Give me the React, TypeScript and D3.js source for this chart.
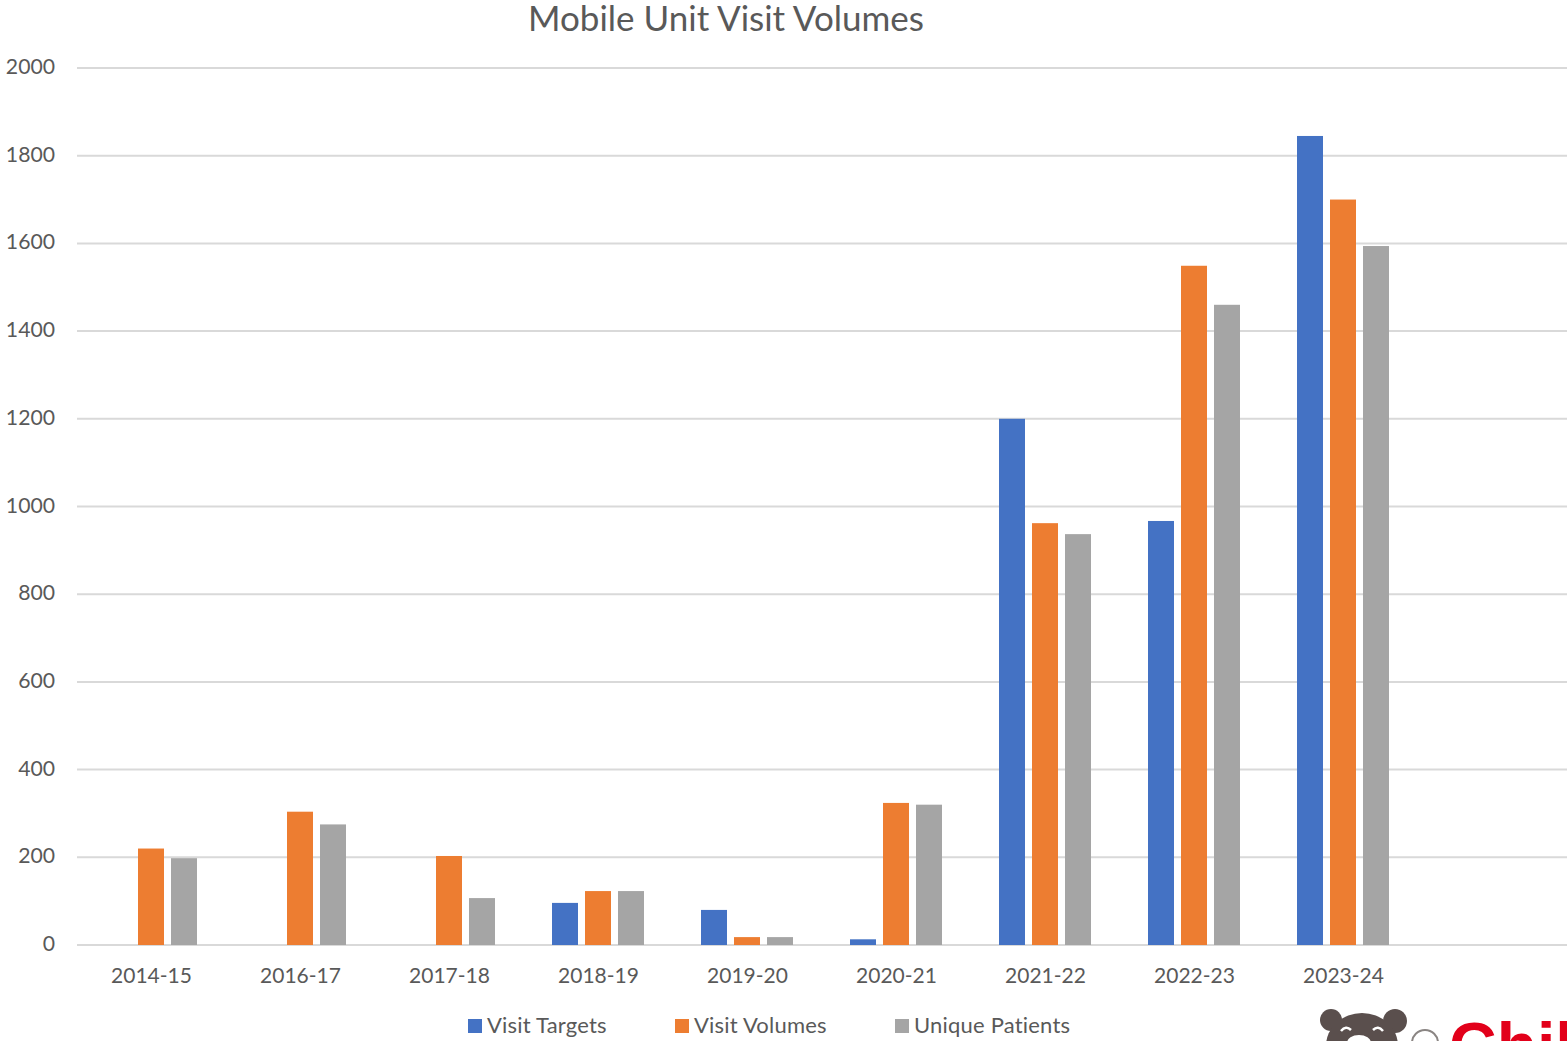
import * as d3 from "d3";

const categories = ["2014-15", "2016-17", "2017-18", "2018-19", "2019-20", "2020-21", "2021-22", "2022-23", "2023-24", ""];
const visitTargets = [0, 0, 0, 96, 80, 13, 1200, 967, 1845, 0];
const visitVolumes = [220, 304, 203, 123, 18, 324, 962, 1549, 1700, 0];
const uniquePatients = [198, 275, 107, 123, 18, 320, 937, 1460, 1594, 0];
const seriesNames = ["Visit Targets", "Visit Volumes", "Unique Patients"];
const seriesColors = ["#4472c4", "#ed7d31", "#a5a5a5"];
const yTicks = [0, 200, 400, 600, 800, 1000, 1200, 1400, 1600, 1800, 2000];

const width = 1567;
const height = 1041;
const font = "Lato, 'Open Sans', sans-serif";
const textColor = "#595959";

const App = () => {
  const x = d3.scaleBand().domain(categories).range([77, 1567]);
  const y = d3.scaleLinear().domain([0, 2000]).range([945, 68]);

  // bars are 26 wide with a 7 gap, centred in each category
  const inner = d3.scaleBand().domain(seriesNames).range([28, 120]).paddingInner(7 / 33).paddingOuter(0);

  const allSeries = [visitTargets, visitVolumes, uniquePatients];
  const legendX = [468, 675, 895];

  return (
    <svg
      width={width}
      height={height}
      viewBox={`0 0 ${width} ${height}`}
      style={{ position: "absolute", left: 0, top: 0, background: "#fff" }}
      fontFamily={font}
    >
      <text x={726} y={30.5} fontSize={35} textAnchor="middle" fill={textColor}>
        Mobile Unit Visit Volumes
      </text>

      {/* Y gridlines and labels */}
      {yTicks.map((t) => (
        <g key={t}>
          <line x1={77} x2={1567} y1={y(t)} y2={y(t)} stroke="#d9d9d9" strokeWidth={2} />
          <text x={55} y={y(t) + 6} fontSize={21.2} textAnchor="end" fill={textColor}>
            {t}
          </text>
        </g>
      ))}

      {/* Bars */}
      {allSeries.map((values, s) =>
        values.map((v, i) =>
          v > 0 ? (
            <rect
              key={`${s}-${i}`}
              x={(x(categories[i]) ?? 0) + (inner(seriesNames[s]) ?? 0)}
              y={y(v)}
              width={inner.bandwidth()}
              height={y(0) - y(v)}
              fill={seriesColors[s]}
            />
          ) : null
        )
      )}

      {/* X labels */}
      {categories.map((c) => (
        <text
          key={c}
          x={(x(c) ?? 0) + x.bandwidth() / 2}
          y={983}
          fontSize={21}
          textAnchor="middle"
          fill={textColor}
        >
          {c}
        </text>
      ))}

      {/* Legend */}
      {seriesNames.map((name, i) => (
        <g key={name}>
          <rect x={legendX[i]} y={1019} width={14} height={14} fill={seriesColors[i]} />
          <text x={legendX[i] + 19} y={1033} fontSize={22} letterSpacing={0.2} fill={textColor}>
            {name}
          </text>
        </g>
      ))}

      {/* Logo cut off by the bottom edge */}
      <g fill="#5a4f4d">
        <circle cx={1331} cy={1020} r={11} />
        <circle cx={1395} cy={1021} r={12} />
        <ellipse cx={1362} cy={1046} rx={36} ry={33} />
        <ellipse cx={1359} cy={1043} rx={12} ry={8} fill="#fff" />
        <path d="M1341 1031 q5 -6 10 -1" fill="none" stroke="#fff" strokeWidth={2.5} />
        <path d="M1373 1030 q5 -5 10 1" fill="none" stroke="#fff" strokeWidth={2.5} />
      </g>
      <circle cx={1425} cy={1043} r={13} fill="none" stroke="#8a8583" strokeWidth={2} />
      <text x={1449} y={1069} fontSize={66} fontWeight={700} fontFamily="'Liberation Sans', sans-serif" fill="#e2001a">
        Chil
      </text>
    </svg>
  );
};

export default App;
